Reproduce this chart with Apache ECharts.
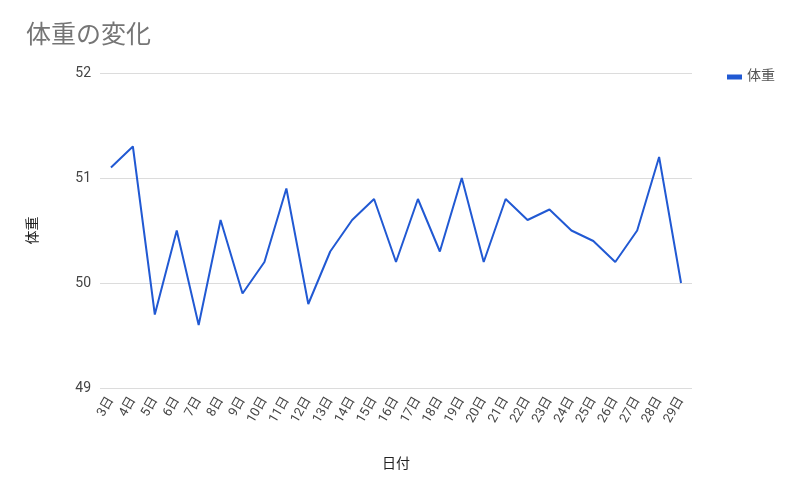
<!DOCTYPE html>
<html><head><meta charset="utf-8">
<script src="https://cdn.jsdelivr.net/npm/echarts@6/dist/echarts.min.js"></script>
<style>html,body{margin:0;padding:0;background:#fff}#c{width:800px;height:485px}</style>
</head><body><div id="c"></div>
<script>
const categories = ['3日','4日','5日','6日','7日','8日','9日','10日','11日','12日','13日','14日','15日','16日','17日','18日','19日','20日','21日','22日','23日','24日','25日','26日','27日','28日','29日'];
const weights = [51.1,51.3,49.7,50.5,49.6,50.6,49.9,50.2,50.9,49.8,50.3,50.6,50.8,50.2,50.8,50.3,51.0,50.2,50.8,50.6,50.7,50.5,50.4,50.2,50.5,51.2,50.0];
const yTicks = [49,50,51,52];
const font = '"Roboto","Noto Sans CJK JP",sans-serif';
const chart = echarts.init(document.getElementById('c'));
chart.setOption({
  animation:false,
  textStyle:{fontFamily:font},
  title:{text:'体重の変化',left:21,top:19,textStyle:{fontSize:25,fontWeight:'normal',color:'#757575',fontFamily:font}},
  legend:{right:20,top:65,icon:'rect',itemWidth:15,itemHeight:5,itemGap:10,textStyle:{color:'#555',fontSize:14,fontFamily:font},data:['体重']},
  grid:{left:100,right:108,top:73,bottom:97},
  xAxis:{type:'category',data:categories,boundaryGap:true,
    name:'日付',nameLocation:'middle',nameGap:70,nameTextStyle:{color:'#222',fontSize:14,fontFamily:font},
    axisLine:{show:false},axisTick:{show:false},
    axisLabel:{rotate:60,interval:0,color:'#444',fontSize:13,margin:10,fontFamily:font}},
  yAxis:{type:'value',min:yTicks[0],max:yTicks[yTicks.length-1],interval:1,
    name:'体重',nameLocation:'middle',nameGap:60,nameTextStyle:{color:'#222',fontSize:14,fontFamily:font},
    axisLine:{show:false},axisTick:{show:false},
    axisLabel:{color:'#444',fontSize:14,margin:9,fontFamily:font},
    splitLine:{lineStyle:{color:'#dcdcdc',width:1}}},
  series:[{name:'体重',type:'line',data:weights,showSymbol:false,symbol:'none',
    lineStyle:{color:'#2159d3',width:2},itemStyle:{color:'#2159d3'}}]
});
</script></body></html>
